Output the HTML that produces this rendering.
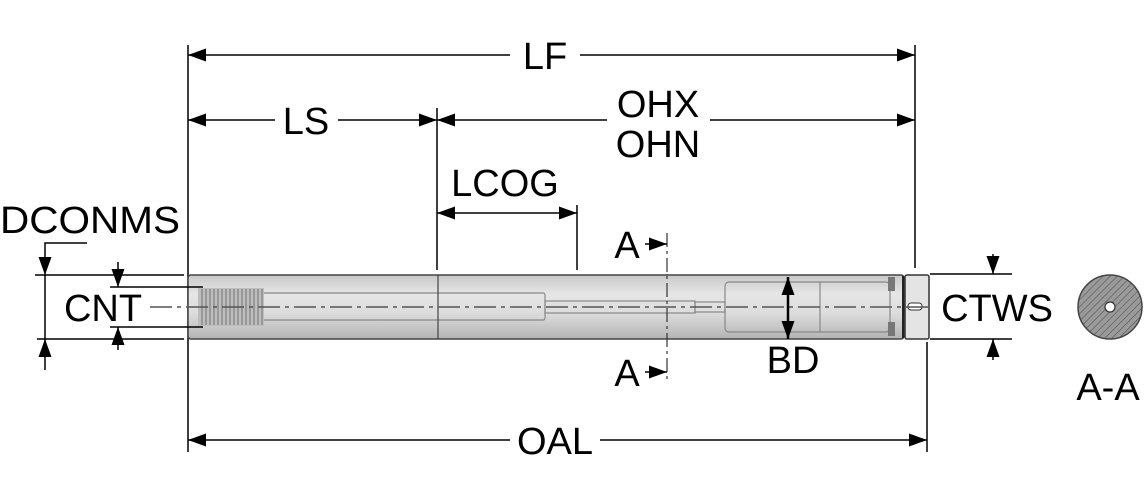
<!DOCTYPE html>
<html><head><meta charset="utf-8"><style>
html,body{margin:0;padding:0;background:#fff;}
svg{display:block;}
text{font-family:"Liberation Sans",sans-serif;font-size:38px;fill:#000;}
</style></head><body>
<svg width="1145" height="500" viewBox="0 0 1145 500" xmlns="http://www.w3.org/2000/svg">
<defs>
<linearGradient id="g" x1="0" y1="0" x2="0" y2="1">
<stop offset="0" stop-color="#c8c8c8"/><stop offset="0.3" stop-color="#e6e6e6"/><stop offset="0.6" stop-color="#dcdcdc"/><stop offset="1" stop-color="#b4b4b4"/>
</linearGradient>
<pattern id="h" width="5" height="5" patternUnits="userSpaceOnUse" patternTransform="rotate(45)">
<rect width="5" height="5" fill="#9a9a9a"/><line x1="0" y1="0" x2="0" y2="5" stroke="#555" stroke-width="1.2"/>
</pattern>
<marker id="ae" markerWidth="18" markerHeight="13" refX="18" refY="6.5" orient="auto" markerUnits="userSpaceOnUse"><path d="M0,0 L18,6.5 L0,13z" fill="#000"/></marker>
<marker id="as" markerWidth="18" markerHeight="13" refX="0" refY="6.5" orient="auto" markerUnits="userSpaceOnUse"><path d="M18,0 L0,6.5 L18,13z" fill="#000"/></marker>
</defs>
<g stroke="#000" stroke-width="1.5" fill="none">
<line x1="188" y1="45" x2="188" y2="452"/>
<line x1="915" y1="45" x2="915" y2="268"/>
<line x1="927" y1="342" x2="927" y2="452"/>
<line x1="437" y1="108" x2="437" y2="270"/>
<line x1="577" y1="205" x2="577" y2="270"/>
</g>
<rect x="188" y="275" width="716" height="64" rx="3" fill="url(#g)" stroke="#444" stroke-width="1.5"/>
<rect x="905" y="275" width="24" height="64" rx="2" fill="#e4e4e4" stroke="#333" stroke-width="1.5"/>
<g fill="none" stroke="#888" stroke-width="1.2">
<rect x="200" y="293" width="345" height="27" rx="2"/>
<rect x="545" y="301" width="150" height="12"/>
<rect x="695" y="302" width="30" height="10"/>
<rect x="725" y="282" width="165" height="50" rx="4"/>
<line x1="820" y1="282" x2="820" y2="332"/>
</g>
<rect x="198" y="288" width="66" height="38" fill="#bdbdbd"/>
<g stroke="#888" stroke-width="1.4">
<path d="M202,289 v36 M206,289 v36 M210,289 v36 M214,289 v36 M218,289 v36 M222,289 v36 M226,289 v36 M230,289 v36 M234,289 v36 M238,289 v36 M242,289 v36 M246,289 v36 M250,289 v36 M254,289 v36 M258,289 v36 M262,289 v36"/>
</g>
<rect x="888" y="277" width="7" height="14" fill="#777"/>
<rect x="888" y="322" width="7" height="14" fill="#777"/>
<line x1="903" y1="276" x2="903" y2="338" stroke="#222" stroke-width="2"/>
<rect x="908" y="303" width="14" height="7" rx="3" fill="#fff" stroke="#333"/>
<line x1="438" y1="275" x2="438" y2="339" stroke="#444" stroke-width="1.2"/>
<line x1="150" y1="307" x2="930" y2="307" stroke="#555" stroke-width="1.5" stroke-dasharray="22,5,4,5"/>
<line x1="667" y1="233" x2="667" y2="380" stroke="#333" stroke-width="1.2" stroke-dasharray="14,4,3,4"/>
<g stroke="#000" stroke-width="1.5" fill="none">
<line x1="188" y1="55" x2="510" y2="55" marker-start="url(#as)"/>
<line x1="580" y1="55" x2="915" y2="55" marker-end="url(#ae)"/>
<line x1="188" y1="120" x2="275" y2="120" marker-start="url(#as)"/>
<line x1="338" y1="120" x2="437" y2="120" marker-end="url(#ae)"/>
<line x1="437" y1="120" x2="607" y2="120" marker-start="url(#as)"/>
<line x1="710" y1="120" x2="915" y2="120" marker-end="url(#ae)"/>
<line x1="437" y1="213" x2="577" y2="213" marker-start="url(#as)" marker-end="url(#ae)"/>
<line x1="188" y1="440" x2="510" y2="440" marker-start="url(#as)"/>
<line x1="600" y1="440" x2="927" y2="440" marker-end="url(#ae)"/>
<line x1="35" y1="275" x2="184" y2="275"/>
<line x1="37" y1="339" x2="184" y2="339"/>
<line x1="45" y1="275" x2="45" y2="339"/>
<polyline points="87,243 45,243 45,275" marker-end="url(#ae)"/>
<line x1="45" y1="370" x2="45" y2="339" marker-end="url(#ae)"/>
<line x1="110" y1="287" x2="203" y2="287"/>
<line x1="110" y1="327" x2="203" y2="327"/>
<line x1="118" y1="262" x2="118" y2="287" marker-end="url(#ae)"/>
<line x1="118" y1="350" x2="118" y2="327" marker-end="url(#ae)"/>
<line x1="930" y1="274" x2="1012" y2="274"/>
<line x1="930" y1="339" x2="1012" y2="339"/>
<line x1="993" y1="254" x2="993" y2="274" marker-end="url(#ae)"/>
<line x1="993" y1="360" x2="993" y2="339" marker-end="url(#ae)"/>
<line x1="788" y1="277" x2="788" y2="339" stroke-width="2.5" marker-start="url(#as)" marker-end="url(#ae)"/>
<line x1="645" y1="244" x2="667" y2="244" marker-end="url(#ae)"/>
<line x1="645" y1="372" x2="667" y2="372" marker-end="url(#ae)"/>
</g>
<circle cx="1110" cy="307" r="32" fill="url(#h)" stroke="#444" stroke-width="1.5"/>
<circle cx="1110" cy="307" r="5" fill="#fff" stroke="#333" stroke-width="1.2"/>
<text x="545" y="69" text-anchor="middle">LF</text>
<text x="306" y="134" text-anchor="middle">LS</text>
<text x="658" y="117" text-anchor="middle">OHX</text>
<text x="658" y="157" text-anchor="middle">OHN</text>
<text x="505" y="196" text-anchor="middle">LCOG</text>
<text x="555" y="454" text-anchor="middle">OAL</text>
<text x="90" y="233" text-anchor="middle" textLength="180" lengthAdjust="spacingAndGlyphs">DCONMS</text>
<text x="103" y="321" text-anchor="middle">CNT</text>
<text x="997" y="321" text-anchor="middle">CTWS</text>
<text x="793" y="373" text-anchor="middle">BD</text>
<text x="627" y="258" text-anchor="middle">A</text>
<text x="627" y="386" text-anchor="middle">A</text>
<text x="1108" y="400" text-anchor="middle">A-A</text>
</svg>
</body></html>
